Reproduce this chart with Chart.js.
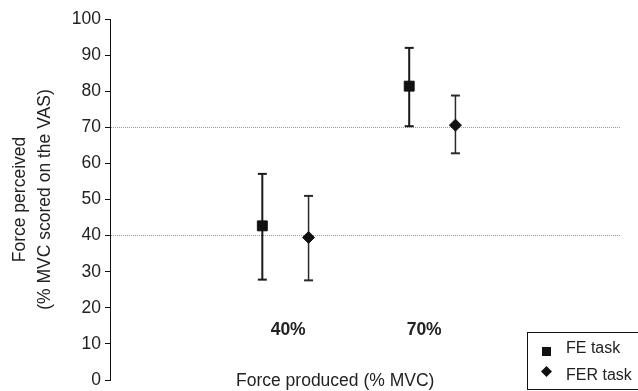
<!DOCTYPE html>
<html lang="en">
<head>
<meta charset="UTF-8">
<title>Force perceived vs force produced</title>
<script src="https://cdn.jsdelivr.net/npm/chart.js"></script>
<style>
  html, body { margin: 0; padding: 0; background: #fff; }
</style>
</head>
<body>
<canvas id="myChart" width="638" height="391"></canvas>
<script>
// x categories and their slot on the linear x scale
const categories = ['40%', '70%'];
const catX = [1, 2];

// FE task: mean and error bar ends
const feX = [0.81, 1.89];
const feMean = [42.7, 81.4];
const feLow = [27.8, 70.3];
const feHigh = [57.1, 92.0];

// FER task
const ferX = [1.15, 2.23];
const ferMean = [39.5, 70.6];
const ferLow = [27.6, 62.8];
const ferHigh = [51.0, 78.8];

const refLines = [40, 70];   // dotted reference lines
const xTitle = 'Force produced (% MVC)';
const yTitle = ['Force perceived', '(% MVC scored on the VAS)'];
const FONT = '"Liberation Sans", Arial, sans-serif';

function points(xs, ys) {
  return xs.map((x, i) => ({ x: x, y: ys[i] }));
}

// one segment per error bar, split by a null point
function bars(xs, lo, hi) {
  const out = [];
  xs.forEach((x, i) => {
    out.push({ x: x, y: lo[i] }, { x: x, y: hi[i] }, { x: x, y: null });
  });
  return out;
}

// axis title and legend box drawn over the plot, like the original
const extras = {
  id: 'extras',
  afterDraw(chart) {
    const ctx = chart.ctx;
    const ds = chart.data.datasets;
    ctx.save();
    ctx.fillStyle = '#222';
    ctx.font = '17.5px ' + FONT;
    ctx.textBaseline = 'alphabetic';
    ctx.fillText(xTitle, 236, 386);

    ctx.strokeStyle = '#111';
    ctx.lineWidth = 1;
    ctx.strokeRect(527.5, 332.5, 120, 57);

    ctx.fillStyle = '#111';
    ctx.fillRect(542, 347, 9, 9);
    ctx.beginPath();
    ctx.moveTo(546.5, 366);
    ctx.lineTo(552, 371.5);
    ctx.lineTo(546.5, 377);
    ctx.lineTo(541, 371.5);
    ctx.closePath();
    ctx.fill();

    ctx.fillStyle = '#222';
    ctx.font = '16px ' + FONT;
    ctx.fillText(ds[0].label, 566, 353);
    ctx.fillText(ds[1].label, 566, 380);
    ctx.restore();
  }
};

new Chart(document.getElementById('myChart'), {
  type: 'scatter',
  plugins: [extras],
  data: {
    datasets: [{
      label: 'FE task',
      data: points(feX, feMean),
      pointStyle: 'rect',
      pointRadius: 7,
      backgroundColor: '#111',
      borderColor: '#111',
      borderWidth: 1
    }, {
      label: 'FER task',
      data: points(ferX, ferMean),
      pointStyle: 'rectRot',
      pointRadius: 6,
      backgroundColor: '#111',
      borderColor: '#111',
      borderWidth: 1
    }, {
      label: 'FE sd',
      data: bars(feX, feLow, feHigh),
      showLine: true,
      spanGaps: false,
      borderColor: '#1a1a1a',
      borderWidth: 2,
      pointStyle: 'line',
      pointRadius: 4.5,
      pointBorderWidth: 2,
      pointBorderColor: '#1a1a1a'
    }, {
      label: 'FER sd',
      data: bars(ferX, ferLow, ferHigh),
      showLine: true,
      spanGaps: false,
      borderColor: '#2a2a2a',
      borderWidth: 1.5,
      pointStyle: 'line',
      pointRadius: 4.5,
      pointBorderWidth: 2,
      pointBorderColor: '#2a2a2a'
    }]
  },
  options: {
    responsive: false,
    animation: false,
    layout: { padding: { top: 19, right: 18, bottom: 7, left: 0 } },
    plugins: {
      legend: { display: false },
      tooltip: { enabled: false }
    },
    scales: {
      x: {
        type: 'linear',
        min: -0.31,
        max: 3.44,
        position: { y: 16.8 },
        grid: { display: false, drawTicks: false },
        border: { display: false },
        ticks: {
          padding: 0,
          color: '#222',
          font: { family: FONT, size: 17.5, weight: 'bold' },
          callback: (v, i) => categories[i]
        },
        afterBuildTicks: s => { s.ticks = catX.map(v => ({ value: v })); },
        afterFit: s => { s.height = 0; }
      },
      y: {
        position: 'left',
        min: 0,
        max: 100,
        ticks: {
          stepSize: 10,
          padding: 4,
          color: '#222',
          font: { family: FONT, size: 17.5, lineHeight: 0.8 }
        },
        grid: {
          color: c => refLines.includes(c.tick.value) ? '#999' : 'rgba(0,0,0,0)',
          lineWidth: 1,
          drawTicks: true,
          tickLength: 5,
          tickColor: '#111',
          tickWidth: 1
        },
        border: { display: true, color: '#111', width: 1, dash: [1, 1] },
        title: {
          display: true,
          text: yTitle,
          color: '#222',
          font: { family: FONT, size: 17.5, lineHeight: 1.45 },
          padding: { top: 7, bottom: 0 }
        },
        afterFit: s => { s.width = 110; }
      }
    }
  }
});
</script>
</body>
</html>
